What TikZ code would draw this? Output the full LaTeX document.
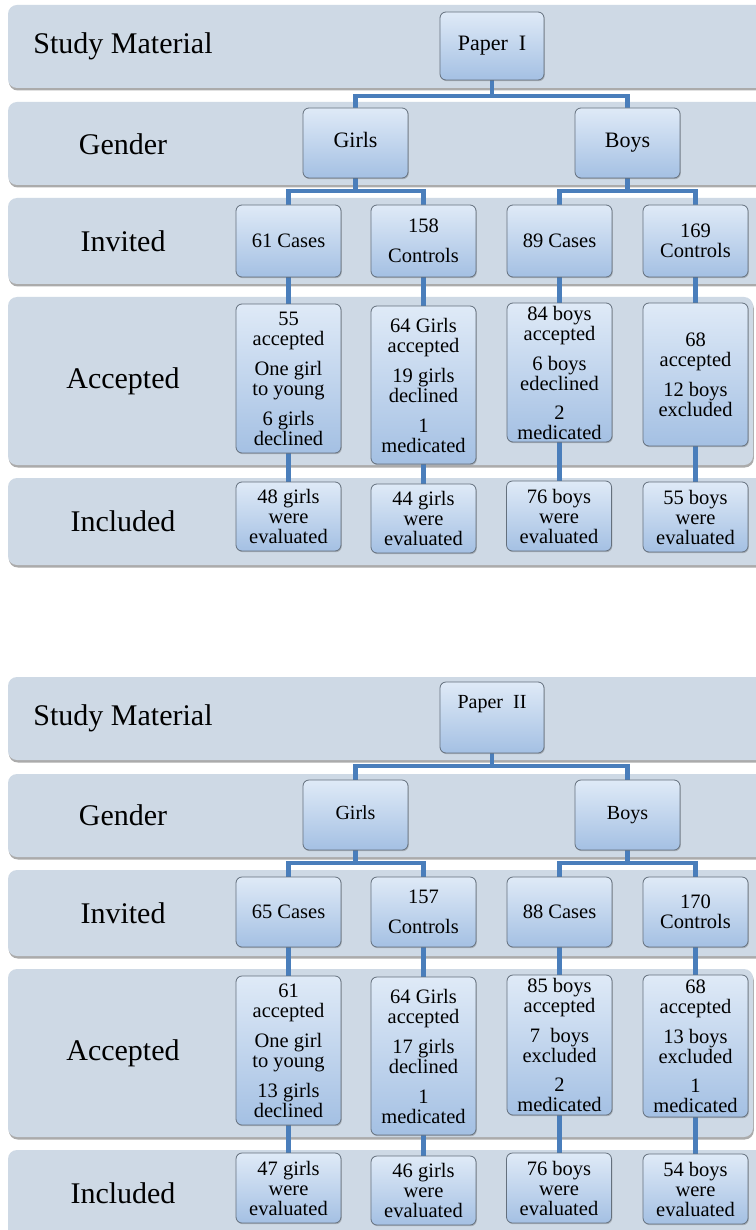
\documentclass[tikz,border=0pt]{standalone}
\usepackage{fontspec}
\setmainfont{Liberation Serif}
\usetikzlibrary{shadows,calc}
\definecolor{bandfill}{RGB}{206,217,229}
\definecolor{boxtop}{RGB}{223,234,247}
\definecolor{boxbot}{RGB}{164,192,227}
\definecolor{boxline}{RGB}{100,112,125}
\definecolor{conncol}{RGB}{74,126,187}
\pgfdeclarelayer{bg}
\pgfsetlayers{bg,main}
\tikzset{
 band/.style={fill=bandfill, rounded corners=9pt, drop shadow={shadow xshift=0.8pt, shadow yshift=-2.5pt, opacity=0.55, fill=black!60}},
 stepbox/.style={draw=boxline, line width=0.8pt, rounded corners=6pt, top color=boxtop, bottom color=boxbot, minimum width=105pt, inner sep=0pt, align=center, font=\fontsize{20.5}{20}\selectfont, drop shadow={shadow xshift=0.8pt, shadow yshift=-1.2pt, opacity=0.35, fill=black!60}},
 rowlabel/.style={font=\fontsize{30}{34}\selectfont, inner sep=0pt},
 conn/.style={draw=conncol, line width=4.5pt},
}
\begin{document}
\begin{tikzpicture}[x=1pt,y=1pt]
\useasboundingbox (0,0) rectangle (755,-1230);

% ---------------- Paper I ----------------
\node[stepbox, minimum width=104pt, minimum height=68pt, font=\fontsize{22}{22}\selectfont] (pI) at (492,-46) {Paper~~I\strut};
\node[stepbox, minimum height=70pt, font=\fontsize{22}{22}\selectfont] (gI) at (355.5,-143) {Girls\strut};
\node[stepbox, minimum height=70pt, font=\fontsize{22}{22}\selectfont] (bI) at (627.5,-143) {Boys\strut};

\node[stepbox, minimum height=72pt] (i1I) at (288.5,-241) {61 Cases};
\node[stepbox, minimum height=72pt] (i2I) at (423.5,-241) {158\\[10pt]Controls};
\node[stepbox, minimum height=72pt] (i3I) at (559.5,-241) {89 Cases};
\node[stepbox, minimum height=72pt] (i4I) at (695.5,-241) {169\\Controls};

\node[stepbox, minimum height=149pt] (a1I) at (288.5,-378.5) {55\\accepted\\[10pt]One girl\\to young\\[10pt]6 girls\\declined};
\node[stepbox, minimum height=158pt] (a2I) at (423.5,-385) {64 Girls\\accepted\\[10pt]19 girls\\declined\\[10pt]1\\medicated};
\node[stepbox, minimum height=139pt] (a3I) at (559.5,-372.5) {84 boys\\accepted\\[10pt]6 boys\\edeclined\\[9pt]2\\medicated};
\node[stepbox, minimum height=143pt] (a4I) at (695.5,-374.5) {68\\accepted\\[10pt]12 boys\\excluded};

\node[stepbox, minimum height=69pt] (n1I) at (288.5,-516.5) {48 girls\\were\\evaluated};
\node[stepbox, minimum height=69pt] (n2I) at (423.5,-518.5) {44 girls\\were\\evaluated};
\node[stepbox, minimum height=70pt] (n3I) at (559,-516) {76 boys\\were\\evaluated};
\node[stepbox, minimum height=70pt] (n4I) at (695.5,-517) {55 boys\\were\\evaluated};

\node[rowlabel] (l1I) at (123,-46) {Study Material};
\node[rowlabel] (l2I) at (123,-144) {Gender};
\node[rowlabel] (l3I) at (123,-241) {Invited};
\node[rowlabel] (l4I) at (123,-381) {Accepted};
\node[rowlabel] (l5I) at (123,-521) {Included};

% ---------------- Paper II ----------------
\node[stepbox, minimum width=104pt, minimum height=71pt, font=\fontsize{20}{20}\selectfont] (pII) at (492,-717.5) {Paper~~II\\[12pt]\mbox{}};
\node[stepbox, minimum height=70pt, font=\fontsize{20}{20}\selectfont] (gII) at (355.5,-815) {Girls\strut};
\node[stepbox, minimum height=70pt, font=\fontsize{20}{20}\selectfont] (bII) at (627.5,-815) {Boys\strut};

\node[stepbox, minimum height=70pt] (i1II) at (288.5,-912) {65 Cases};
\node[stepbox, minimum height=70pt] (i2II) at (423.5,-912) {157\\[10pt]Controls};
\node[stepbox, minimum height=70pt] (i3II) at (559.5,-912) {88 Cases};
\node[stepbox, minimum height=70pt] (i4II) at (695.5,-912) {170\\Controls};

\node[stepbox, minimum height=149pt] (a1II) at (288.5,-1050.5) {61\\accepted\\[10pt]One girl\\to young\\[10pt]13 girls\\declined};
\node[stepbox, minimum height=158pt] (a2II) at (423.5,-1056) {64 Girls\\accepted\\[10pt]17 girls\\declined\\[10pt]1\\medicated};
\node[stepbox, minimum height=140pt] (a3II) at (559.5,-1045) {85 boys\\accepted\\[10pt]7~~boys\\excluded\\[9pt]2\\medicated};
\node[stepbox, minimum height=142pt] (a4II) at (695.5,-1046) {68\\accepted\\[10pt]13 boys\\excluded\\[9pt]1\\medicated};

\node[stepbox, minimum height=70pt] (n1II) at (288.5,-1188) {47 girls\\were\\evaluated};
\node[stepbox, minimum height=69pt] (n2II) at (423.5,-1190.5) {46 girls\\were\\evaluated};
\node[stepbox, minimum height=70pt] (n3II) at (559,-1188) {76 boys\\were\\evaluated};
\node[stepbox, minimum height=70pt] (n4II) at (695.5,-1189) {54 boys\\were\\evaluated};

\node[rowlabel] (l1II) at (123,-718) {Study Material};
\node[rowlabel] (l2II) at (123,-815) {Gender};
\node[rowlabel] (l3II) at (123,-913) {Invited};
\node[rowlabel] (l4II) at (123,-1053) {Accepted};
\node[rowlabel] (l5II) at (123,-1193) {Included};

\begin{pgfonlayer}{bg}
\fill[white] (0,0) rectangle (755,-1230);
% bands
\path[band] (8,-5) rectangle (790,-88);
\path[band] (8,-102) rectangle (790,-185);
\path[band] (8,-198) rectangle (790,-284);
\path[band] (8,-297) rectangle (753,-465);
\path[band] (8,-478) rectangle (790,-565);
\path[band] (8,-677) rectangle (790,-760);
\path[band] (8,-774) rectangle (790,-857);
\path[band] (8,-870) rectangle (790,-956);
\path[band] (8,-969) rectangle (753,-1137);
\path[band] (8,-1150) rectangle (790,-1245);

% connectors Paper I
\coordinate (hpI) at (0,-96);
\coordinate (hgI) at (0,-191);
\draw[conn] (pI.south) -- (pI.south |- hpI) -| (gI.north);
\draw[conn] (pI.south |- hpI) -| (bI.north);
\draw[conn] (gI.south) -- (gI.south |- hgI) -| (i1I.north);
\draw[conn] (gI.south |- hgI) -| (i2I.north);
\draw[conn] (bI.south) -- (bI.south |- hgI) -| (i3I.north);
\draw[conn] (bI.south |- hgI) -| (i4I.north);
\draw[conn] (i1I.south) -- (a1I.north);
\draw[conn] (i2I.south) -- (a2I.north);
\draw[conn] (i3I.south) -- (a3I.north);
\draw[conn] (i4I.south) -- (a4I.north);
\draw[conn] (a1I.south) -- (n1I.north);
\draw[conn] (a2I.south) -- (n2I.north);
\draw[conn] (a3I.south) -- (a3I.south |- n3I.north);
\draw[conn] (a4I.south) -- (a4I.south |- n4I.north);

% connectors Paper II
\coordinate (hpII) at (0,-766);
\coordinate (hgII) at (0,-863);
\draw[conn] (pII.south) -- (pII.south |- hpII) -| (gII.north);
\draw[conn] (pII.south |- hpII) -| (bII.north);
\draw[conn] (gII.south) -- (gII.south |- hgII) -| (i1II.north);
\draw[conn] (gII.south |- hgII) -| (i2II.north);
\draw[conn] (bII.south) -- (bII.south |- hgII) -| (i3II.north);
\draw[conn] (bII.south |- hgII) -| (i4II.north);
\draw[conn] (i1II.south) -- (a1II.north);
\draw[conn] (i2II.south) -- (a2II.north);
\draw[conn] (i3II.south) -- (a3II.north);
\draw[conn] (i4II.south) -- (a4II.north);
\draw[conn] (a1II.south) -- (n1II.north);
\draw[conn] (a2II.south) -- (n2II.north);
\draw[conn] (a3II.south) -- (a3II.south |- n3II.north);
\draw[conn] (a4II.south) -- (a4II.south |- n4II.north);
\end{pgfonlayer}
\end{tikzpicture}
\end{document}
